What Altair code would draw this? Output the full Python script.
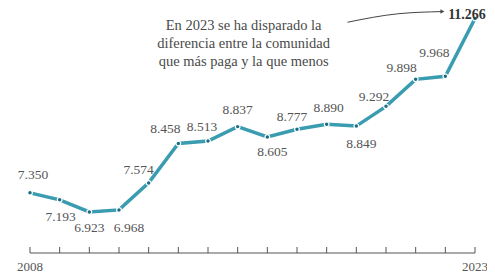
import altair as alt
import pandas as pd

years = list(range(2008, 2024))
values = [7350, 7193, 6923, 6968, 7574, 8458, 8513, 8837, 8605, 8777, 8890, 8849, 9292, 9898, 9968, 11266]
labels = ["7.350", "7.193", "6.923", "6.968", "7.574", "8.458", "8.513", "8.837",
          "8.605", "8.777", "8.890", "8.849", "9.292", "9.898", "9.968", "11.266"]

# label offsets in pixels (text placement only)
label_dx = [3, 1, 0, 10, -10, -13, -6, 0, 5, -5, 2, 5, -12, -14, -11, -8]
label_dy = [-18, 17, 16, 18, -13, -15, -14, -17, 15, -12, -16, 18, -9, -11, -23, -10]

note_lines = ["En 2023 se ha disparado la", "diferencia entre la comunidad", "que más paga y la que menos"]
note_vals = [11100, 10695, 10290]
arrow_x = [2018.7, 2020.4, 2021.9]
arrow_y = [11180, 11370, 11420]

df = pd.DataFrame({"year": years, "value": values, "label": labels})
axis_df = pd.DataFrame({"year": years})
ends_df = pd.DataFrame({"year": [years[0], years[-1]], "t": [str(years[0]), str(years[-1])]})
note_df = pd.DataFrame({"year": [2015.2] * 3, "value": note_vals, "t": note_lines})
arrow_df = pd.DataFrame({"year": arrow_x, "value": arrow_y, "o": [0, 1, 2]})

FONT = "Liberation Serif"
xs = alt.Scale(domain=[2008, 2023])
ys = alt.Scale(domain=[6000, 11500])
X = alt.X("year:Q", scale=xs, axis=None)
Y = alt.Y("value:Q", scale=ys, axis=None)

line = alt.Chart(df).mark_line(color="#3a9cb0", strokeWidth=3.5).encode(x=X, y=Y)
pts = alt.Chart(df).mark_point(filled=True, size=22, color="#1d6c7e", stroke="white",
                               strokeWidth=1.2, opacity=1).encode(x=X, y=Y)

text_layers = []
for i, lab in enumerate(labels):
    last = i == len(labels) - 1
    kw = dict(font=FONT, color="#555555", fontSize=13.5, dx=label_dx[i], dy=label_dy[i])
    if last:
        kw.update(fontWeight="bold", color="#333333", fontSize=14, baseline="top")
    text_layers.append(
        alt.Chart(df).transform_filter(alt.datum.label == lab).mark_text(**kw).encode(
            x=X, y=Y, text="label:N")
    )

base_rule = alt.Chart(pd.DataFrame({"a": [2008], "b": [2023], "v": [6000]})).mark_rule(
    color="#555555", strokeWidth=1).encode(
    x=alt.X("a:Q", scale=xs, axis=None), x2="b:Q", y=alt.Y("v:Q", scale=ys, axis=None))
ticks = alt.Chart(axis_df).mark_rule(color="#555555", strokeWidth=1).encode(
    x=alt.X("year:Q", scale=xs, axis=None), y=alt.value(245), y2=alt.value(239))
end_labels = alt.Chart(ends_df).mark_text(font=FONT, fontSize=13, color="#555555").encode(
    x=alt.X("year:Q", scale=xs, axis=None), y=alt.value(259), text="t:N")

note = alt.Chart(note_df).mark_text(font=FONT, fontSize=14.5, color="#4a4a4a").encode(
    x=X, y=Y, text="t:N")
arrow = alt.Chart(arrow_df).mark_line(color="#444444", strokeWidth=1, interpolate="monotone").encode(
    x=X, y=Y, order="o:Q")
head = alt.Chart(arrow_df.tail(1)).mark_point(shape="triangle-right", filled=True, size=20,
                                             color="#444444", opacity=1).encode(x=X, y=Y)

chart = alt.layer(base_rule, ticks, end_labels, line, pts, *text_layers,
                  note, arrow, head).properties(
    width=445, height=245,
    autosize=alt.AutoSizeParams(type="none"),
    padding={"left": 22, "top": 0, "right": 12, "bottom": 20},
).configure_view(stroke=None)

chart.save("out.html", embed_options={"renderer": "svg", "actions": False})
